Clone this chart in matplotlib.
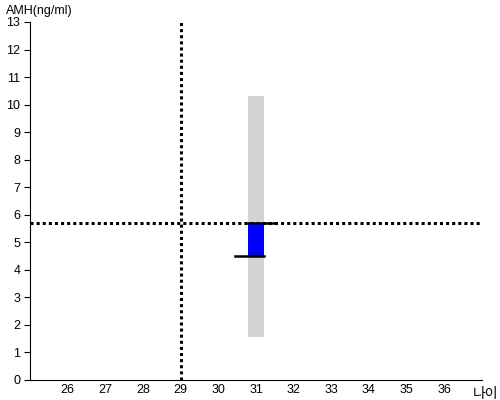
import matplotlib.pyplot as plt

# data
age = 31
age_ref = 29
amh_ref = 5.7
range_low, range_high = 1.55, 10.3
box_low, box_high = 4.5, 5.7
x_ticks = list(range(26, 37))
y_ticks = list(range(0, 14))

plt.rcParams['font.family'] = ['Liberation Sans', 'Noto Sans CJK KR', 'DejaVu Sans']

fig = plt.figure(figsize=(5, 4), dpi=100)
ax = fig.add_axes([0.06, 0.05, 0.904, 0.895])

# normal range (gray) and patient's box (blue)
ax.bar(age, range_high - range_low, bottom=range_low, width=0.43, color='#d3d3d3', zorder=1)
ax.bar(age, box_high - box_low, bottom=box_low, width=0.43, color='#0000ff', zorder=2)

# reference lines
dots = (0, (1, 1))
ax.plot([age_ref, age_ref], [0, 13], color='black', linestyle=dots, linewidth=2.2,
        dash_capstyle='butt', zorder=3)
ax.plot([25, 37], [amh_ref, amh_ref], color='black', linestyle=dots, linewidth=2.2,
        dash_capstyle='butt', zorder=3)

# whisker-like marks
ax.plot([age - 0.56, age + 0.215], [box_low, box_low], color='black', linewidth=1.8, zorder=4)
ax.plot([age - 0.215, age + 0.53], [box_high, box_high], color='black', linewidth=1.8, zorder=4)

ax.set_xlim(25, 37)
ax.set_ylim(0, 13)
ax.set_xticks(x_ticks)
ax.set_yticks(y_ticks)
ax.tick_params(axis='x', length=0, labelsize=9, pad=3)
ax.tick_params(axis='y', length=4, labelsize=9, pad=3)
ax.spines['top'].set_visible(False)
ax.spines['right'].set_visible(False)

fig.text(0.012, 0.965, 'AMH(ng/ml)', fontsize=9)
fig.text(0.945, 0.005, '나이', fontsize=10, family=['Noto Sans CJK KR', 'DejaVu Sans'])

fig.savefig('out.png', dpi=100)
